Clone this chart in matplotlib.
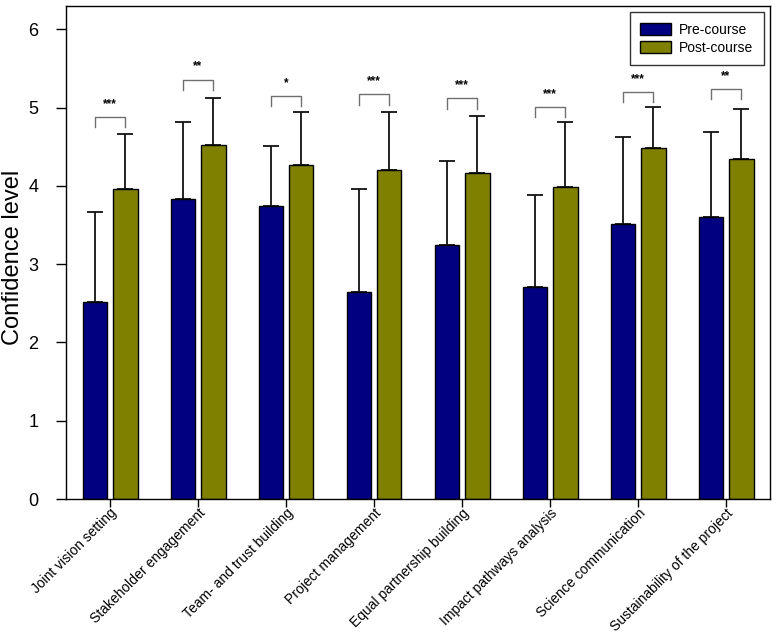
import matplotlib
matplotlib.use("Agg")
import matplotlib.pyplot as plt
import numpy as np

plt.rcParams['font.family'] = ['Liberation Sans', 'DejaVu Sans']

categories = ["Joint vision setting", "Stakeholder engagement", "Team- and trust building",
              "Project management", "Equal partnership building", "Impact pathways analysis",
              "Science communication", "Sustainability of the project"]
pre_mean = [2.52, 3.83, 3.74, 2.65, 3.24, 2.71, 3.52, 3.61]
pre_err = [1.15, 0.99, 0.77, 1.31, 1.08, 1.18, 1.10, 1.08]
post_mean = [3.96, 4.53, 4.27, 4.20, 4.16, 3.99, 4.49, 4.35]
post_err = [0.71, 0.59, 0.68, 0.75, 0.74, 0.83, 0.52, 0.64]
significance = ["***", "**", "*", "***", "***", "***", "***", "**"]
bracket_y = [4.88, 5.36, 5.15, 5.17, 5.12, 5.01, 5.20, 5.24]
yticks = [0, 1, 2, 3, 4, 5, 6]

fig = plt.figure(figsize=(7.8, 6.38), dpi=100)
ax = fig.add_axes([66/780, 1-499/638, (770-66)/780, (499-6)/638])

x = np.arange(len(categories))
w = 0.275
off = 0.175
navy = '#000080'
olive = '#808000'

ax.bar(x - off, pre_mean, w, color=navy, edgecolor='black', linewidth=1.0, label='Pre-course', zorder=2)
ax.bar(x + off, post_mean, w, color=olive, edgecolor='black', linewidth=1.0, label='Post-course', zorder=2)
zeros = [0]*len(categories)
ax.errorbar(x - off, pre_mean, yerr=[zeros, pre_err], fmt='none', ecolor='#111111',
            elinewidth=1.3, capsize=5.5, capthick=1.3, zorder=1)
ax.errorbar(x + off, post_mean, yerr=[zeros, post_err], fmt='none', ecolor='#111111',
            elinewidth=1.3, capsize=5.5, capthick=1.3, zorder=1)

leg_h = 0.13
for xi, by, s in zip(x, bracket_y, significance):
    ax.plot([xi - off, xi - off, xi + off, xi + off], [by - leg_h, by, by, by - leg_h],
            color='#707070', linewidth=1.0, zorder=3)
    ax.text(xi, by + 0.09, s, ha='center', va='bottom', fontsize=8.5, fontweight='bold',
            color='black')

ax.set_xlim(-0.5, len(categories) - 0.5)
ax.set_ylim(0, 6.30)
ax.set_yticks(yticks)
ax.set_yticklabels([str(t) for t in yticks], fontsize=13)
ax.set_xticks(x)
ax.set_xticklabels(categories, rotation=45, ha='right', va='top', rotation_mode='anchor',
                   fontsize=10)
ax.tick_params(axis='y', direction='out', length=7, width=1, pad=13)
ax.tick_params(axis='x', direction='out', length=6, width=1, pad=-1)
ax.set_ylabel('Confidence level', fontsize=17)
ax.yaxis.set_label_coords((24 - 66) / 704, 0.49)
for sp in ax.spines.values():
    sp.set_linewidth(1.0)
    sp.set_color('black')

leg = ax.legend(loc='upper right', fontsize=10, frameon=True, fancybox=False,
                edgecolor='black', handlelength=2.2, handleheight=0.95,
                labelspacing=0.3, handletextpad=0.6, borderpad=0.75, borderaxespad=0.45)
leg.get_frame().set_linewidth(1.0)
for p in leg.get_patches():
    p.set_edgecolor('black')

fig.savefig('out.png', dpi=100)
